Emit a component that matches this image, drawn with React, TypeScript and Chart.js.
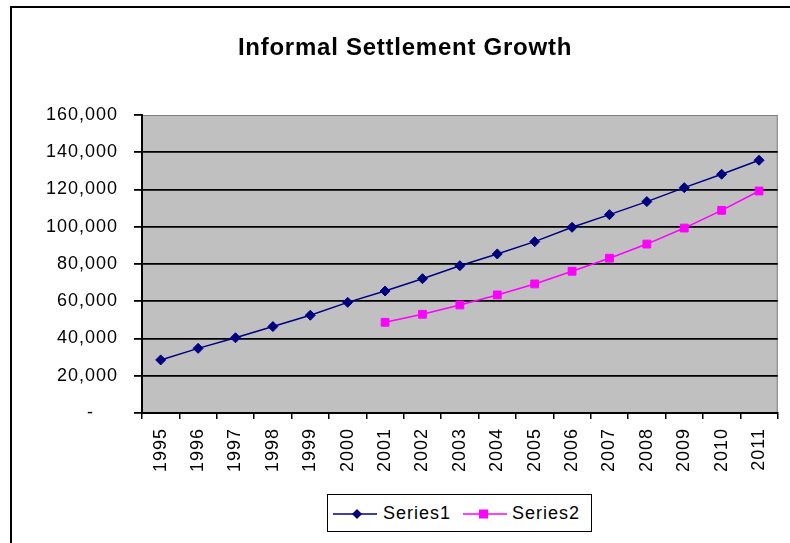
import React, { useEffect, useRef } from 'react';
import { Chart, registerables } from 'chart.js';

Chart.register(...registerables);

const years = ['1995', '1996', '1997', '1998', '1999', '2000', '2001', '2002', '2003', '2004', '2005', '2006', '2007', '2008', '2009', '2010', '2011'];
const series1 = [28500, 34700, 40400, 46400, 52500, 59400, 65500, 72100, 79100, 85400, 92000, 99700, 106500, 113500, 121000, 128200, 135700];
const series2 = [null, null, null, null, null, null, 48700, 53000, 58000, 63400, 69300, 76100, 83100, 90700, 99300, 108800, 119200];
const yMin = 0;
const yMax = 160000;
const yStep = 20000;
const titleText = 'Informal Settlement Growth';
const seriesNames = ['Series1', 'Series2'];

const FONT = 'Arial, "Liberation Sans", sans-serif';

const plotBg = {
  id: 'plotBg',
  beforeUpdate(chart: any) {
    chart.ctx.letterSpacing = '1px';
  },
  beforeLayout(chart: any) {
    chart.ctx.letterSpacing = '1px';
  },
  beforeDraw(chart: any) {
    const { ctx, chartArea: a } = chart;
    ctx.letterSpacing = '1px';
    ctx.save();
    ctx.fillStyle = '#C0C0C0';
    ctx.fillRect(a.left, a.top, a.right - a.left, a.bottom - a.top);
    ctx.strokeStyle = '#808080';
    ctx.lineWidth = 1;
    ctx.strokeRect(a.left + 0.5, a.top + 0.5, a.right - a.left - 1, a.bottom - a.top - 1);
    ctx.restore();
  },
};

export default function App() {
  const ref = useRef<HTMLCanvasElement | null>(null);

  useEffect(() => {
    if (!ref.current) return;
    const chart = new Chart(ref.current, {
      type: 'line',
      data: {
        labels: years,
        datasets: [
          {
            label: seriesNames[0],
            data: series1,
            borderColor: '#000080',
            backgroundColor: '#000080',
            borderWidth: 1.5,
            pointStyle: 'rectRot',
            pointRadius: 5,
            pointBorderWidth: 1,
            pointBackgroundColor: '#000080',
            pointBorderColor: '#000080',
            tension: 0,
          },
          {
            label: seriesNames[1],
            data: series2,
            borderColor: '#FF00FF',
            backgroundColor: '#FF00FF',
            borderWidth: 1.5,
            pointStyle: 'rect',
            pointRadius: 5.5,
            pointBorderWidth: 1,
            pointBackgroundColor: '#FF00FF',
            pointBorderColor: '#FF00FF',
            tension: 0,
            spanGaps: false,
          },
        ],
      },
      options: {
        animation: false,
        responsive: false,
        devicePixelRatio: 1,
        layout: { padding: { top: 115, right: 12, bottom: 50, left: 0 } },
        plugins: {
          legend: { display: false },
          title: { display: false },
          tooltip: { enabled: false },
        },
        scales: {
          x: {
            type: 'category',
            offset: true,
            grid: {
              display: true,
              drawOnChartArea: false,
              drawTicks: true,
              tickLength: 6,
              offset: true,
              color: '#000',
              tickColor: '#000',
              lineWidth: 1.5,
            },
            border: { display: true, color: '#000', width: 2 },
            ticks: {
              autoSkip: false,
              minRotation: 90,
              maxRotation: 90,
              padding: 9,
              color: '#000',
              font: { family: FONT, size: 18 },
            },
            afterFit(scale: any) {
              scale.height = 80;
            },
          },
          y: {
            min: yMin,
            max: yMax,
            grid: {
              display: true,
              drawTicks: true,
              tickLength: 8,
              color: (c: any) => (c.tick && c.tick.value === yMax ? 'rgba(0,0,0,0)' : '#000'),
              tickColor: '#000',
              lineWidth: 1.8,
            },
            border: { display: true, color: '#000', width: 2 },
            ticks: {
              stepSize: yStep,
              padding: 16,
              color: '#000',
              font: { family: FONT, size: 18 },
              callback: (v: any) => (Number(v) === 0 ? '-    ' : Number(v).toLocaleString('en-US')),
            },
            afterFit(scale: any) {
              scale.width = 142;
            },
          },
        },
      },
      plugins: [plotBg],
    });
    return () => chart.destroy();
  }, []);

  return (
    <div style={{ position: 'fixed', left: 0, top: 0, width: 790, height: 543, overflow: 'hidden', background: '#fff' }}>
      <div
        style={{
          position: 'absolute',
          left: 10,
          top: 6,
          width: 820,
          height: 580,
          borderLeft: '2px solid #000',
          borderTop: '2px solid #000',
        }}
      />
      <canvas ref={ref} width={790} height={543} style={{ position: 'absolute', left: 0, top: 0 }} />
      <div
        style={{
          position: 'absolute',
          left: 0,
          top: 35,
          width: 810,
          textAlign: 'center',
          font: `bold 24px ${FONT}`,
          lineHeight: '24px',
          letterSpacing: '0.75px',
          color: '#000',
        }}
      >
        {titleText}
      </div>
      <div
        style={{
          position: 'absolute',
          left: 327,
          top: 494,
          width: 265,
          height: 38,
          boxSizing: 'border-box',
          border: '1px solid #000',
          background: '#fff',
          font: `18px ${FONT}`,
          lineHeight: '18px',
          letterSpacing: '1px',
          color: '#000',
        }}
      >
        <svg style={{ position: 'absolute', left: 5, top: 13 }} width={44} height={12}>
          <line x1={0} y1={6} x2={44} y2={6} stroke="#000080" strokeWidth={1.5} />
          <polygon points="24,1 29,6 24,11 19,6" fill="#000080" />
        </svg>
        <span style={{ position: 'absolute', left: 55, top: 9, whiteSpace: 'nowrap' }}>{seriesNames[0]}</span>
        <svg style={{ position: 'absolute', left: 135, top: 13 }} width={44} height={12}>
          <line x1={0} y1={6} x2={44} y2={6} stroke="#FF00FF" strokeWidth={1.5} />
          <rect x={16} y={1.5} width={9} height={9} fill="#FF00FF" />
        </svg>
        <span style={{ position: 'absolute', left: 184, top: 9, whiteSpace: 'nowrap' }}>{seriesNames[1]}</span>
      </div>
    </div>
  );
}
